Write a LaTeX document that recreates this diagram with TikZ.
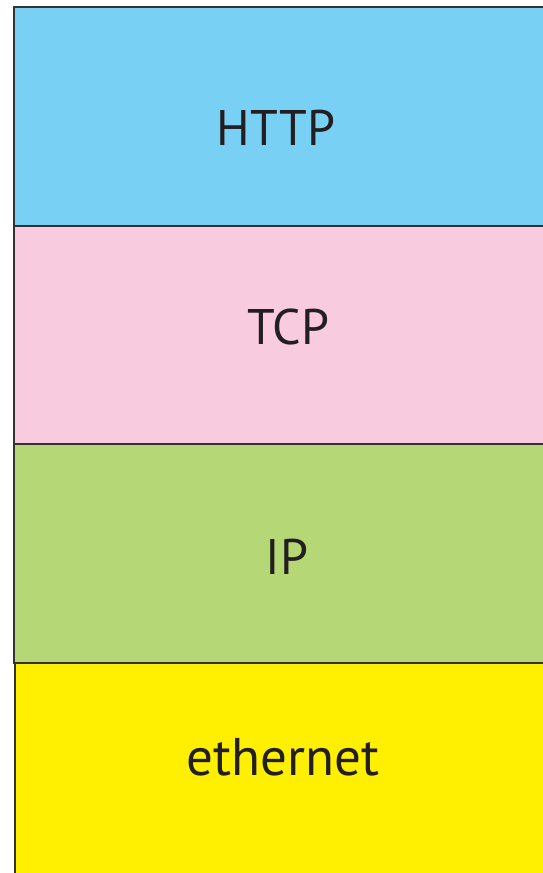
\documentclass[tikz,border=0pt]{standalone}
\usepackage{fontspec}
\setmainfont{PT Sans}
\definecolor{httpblue}{HTML}{79D0F5}
\definecolor{tcppink}{HTML}{F8CBDF}
\definecolor{ipgreen}{HTML}{B6D775}
\definecolor{ethyellow}{HTML}{FFEF00}
\definecolor{edge}{HTML}{333333}
\definecolor{ink}{HTML}{231F20}
\tikzset{
  layer/.style={draw=edge, line width=1.1pt},
  lbl/.style={font=\fontsize{50}{50}\selectfont, text=ink, inner sep=0pt, anchor=center}
}
\begin{document}
\begin{tikzpicture}[x=1pt,y=-1pt]
  \useasboundingbox (0,0) rectangle (543,873);
  \clip (0,0) rectangle (543,873);
  % protocol stack layers
  \path[layer, fill=httpblue]  (14,7)   rectangle (560,226) node (http) {};
  \path[layer, fill=tcppink]   (14,226) rectangle (560,444) node (tcp) {};
  \path[layer, fill=ipgreen]   (14,444) rectangle (560,663) node (ip) {};
  \path[layer, fill=ethyellow] (15,663) rectangle (560,890) node (eth) {};
  % labels
  \node[lbl] (lhttp) at (276,128) {HTTP};
  \node[lbl] (ltcp)  at (288,327) {TCP};
  \node[lbl] (lip)   at (287,557) {IP};
  \node[lbl, font=\fontsize{53}{53}\selectfont] (leth) at (283,757) {ethernet};
\end{tikzpicture}
\end{document}
